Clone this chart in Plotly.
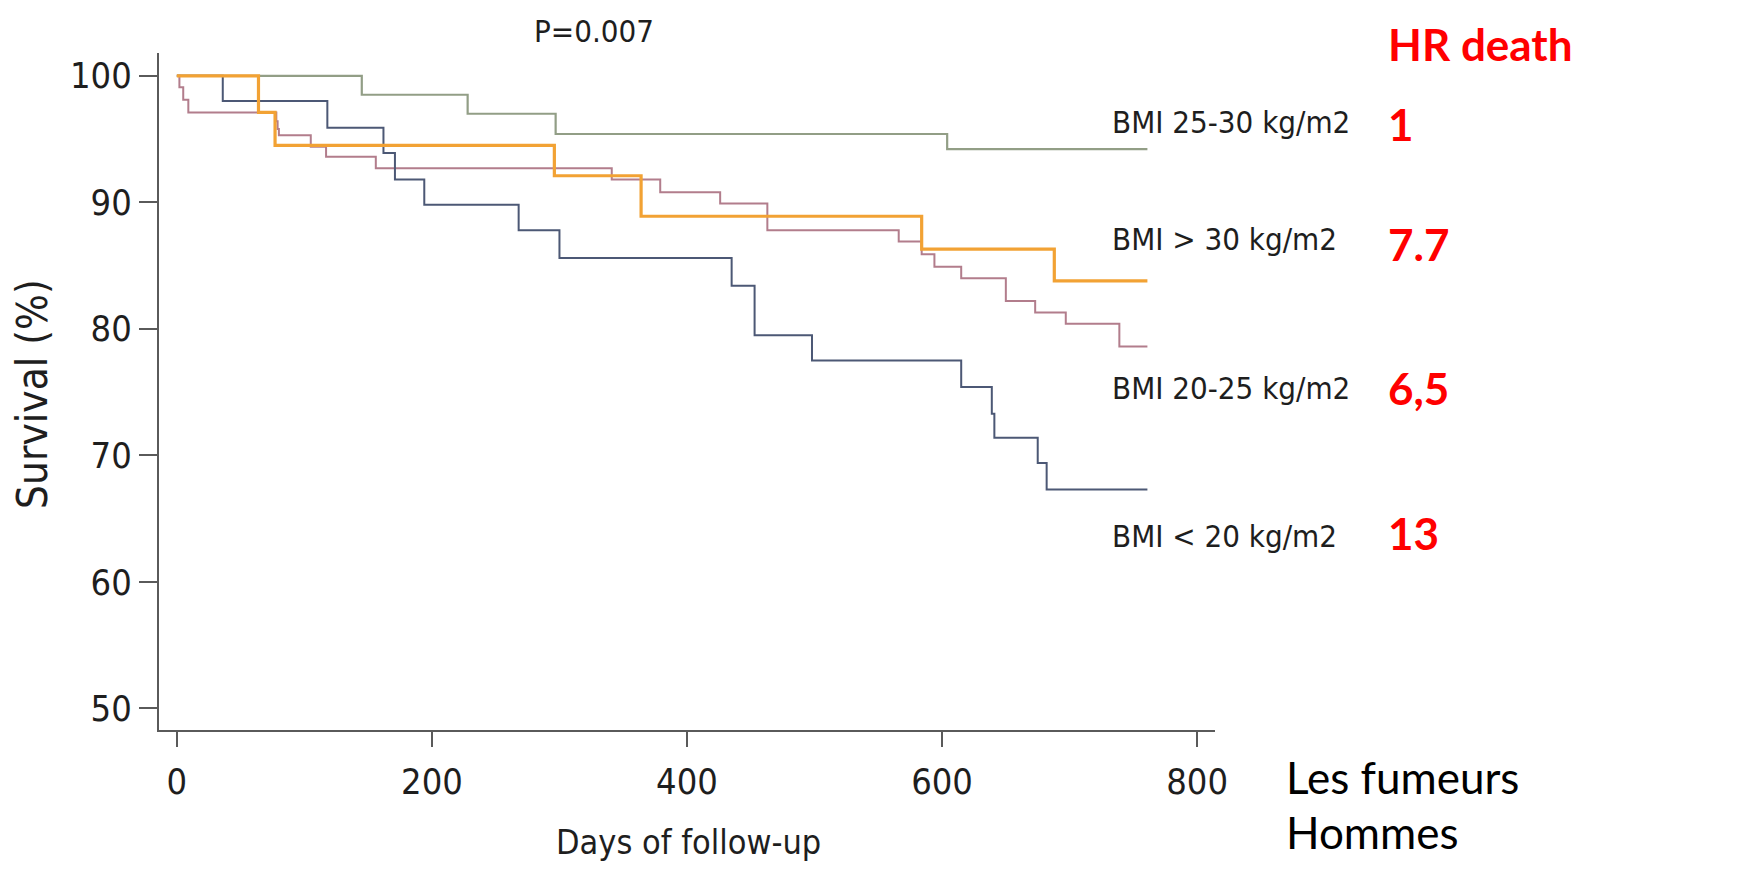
import plotly.graph_objects as go

# ---------------- data ----------------
days_25_30 = [0, 145, 228, 297, 604, 761]
surv_25_30 = [100, 98.5, 97.0, 95.4, 94.2, 94.2]

days_gt30 = [0, 64, 77, 296, 364, 584, 688, 761]
surv_gt30 = [100, 97.1, 94.5, 92.1, 88.9, 86.3, 83.8, 83.8]

days_20_25 = [0, 2, 5, 9, 78, 79, 80, 105, 117, 156, 341, 379, 426, 463,
              566, 584, 594, 615, 650, 673, 697, 739, 761]
surv_20_25 = [100, 99.1, 98.1, 97.1, 96.4, 95.8, 95.3, 94.4, 93.6, 92.7, 91.8, 90.8, 89.9, 87.8,
              86.9, 85.9, 84.9, 84.0, 82.2, 81.3, 80.4, 78.6, 78.6]

days_lt20 = [0, 36, 118, 162, 171, 194, 268, 300, 435, 453, 498, 615, 639, 641, 675, 682, 761]
surv_lt20 = [100, 98.0, 95.9, 93.9, 91.8, 89.8, 87.8, 85.6, 83.4, 79.5, 77.5, 75.4, 73.3, 71.4,
             69.4, 67.3, 67.3]

x_ticks = [0, 200, 400, 600, 800]
y_ticks = [50, 60, 70, 80, 90, 100]

group_labels = ["BMI 25-30 kg/m2", "BMI > 30 kg/m2", "BMI 20-25 kg/m2", "BMI < 20 kg/m2"]
hr_values = ["1", "7.7", "6,5", "13"]
p_text = "P=0.007"
hr_title = "HR death"
subtitle_lines = ["Les fumeurs", "Hommes"]

# ---------------- layout helpers ----------------
OFF = 8                      # page body margin of the html page
W, H = 1740 - 2 * OFF, 871 - 2 * OFF
# plot area in screen pixels
L, R, T, B = 159, 1215, 53, 730


def px(x, y):
    return (x - L) / (R - L), (B - y) / (B - T)


ARIAL = "Liberation Sans Narrow, DejaVu Sans Condensed, Arial Narrow, Liberation Sans, Arial, sans-serif"
CALIBRI = "Lato, Carlito, Calibri, Open Sans, sans-serif"

fig = go.Figure()

series = [
    (days_25_30, surv_25_30, "#929e86", 2.2, group_labels[0]),
    (days_20_25, surv_20_25, "#b27d8c", 2.0, group_labels[2]),
    (days_lt20, surv_lt20, "#4c5875", 2.0, group_labels[3]),
    (days_gt30, surv_gt30, "#f2a234", 3.2, group_labels[1]),
]
for xs, ys, col, w, name in series:
    fig.add_trace(go.Scatter(x=xs, y=ys, mode="lines", line=dict(color=col, width=w, shape="hv"),
                             name=name, showlegend=False, hoverinfo="skip"))

axis_col = "#5a5a5a"
fig.update_xaxes(range=[-14, 814], tickvals=x_ticks, ticks="outside", ticklen=15, tickwidth=1.5,
                 tickcolor=axis_col, showline=True, linecolor=axis_col, linewidth=2, showgrid=False,
                 zeroline=False, ticklabelstandoff=4,
                 tickfont=dict(family=ARIAL, size=36, color="#1e1e1e"))
fig.update_yaxes(range=[48.3, 101.8], tickvals=y_ticks, ticks="outside", ticklen=18, tickwidth=1.5,
                 tickcolor=axis_col, showline=True, linecolor=axis_col, linewidth=2, showgrid=False,
                 zeroline=False, ticklabelstandoff=0,
                 tickfont=dict(family=ARIAL, size=36, color="#1e1e1e"))

ann = []


def add_text(text, x, y, font, xanchor="left", yanchor="middle", textangle=0):
    xp, yp = px(x, y)
    ann.append(dict(text=text, x=xp, y=yp, xref="paper", yref="paper", showarrow=False,
                    xanchor=xanchor, yanchor=yanchor, font=font, textangle=textangle))


# P value
add_text(p_text, 594, 31, dict(family=ARIAL, size=31, color="#1e1e1e"), xanchor="center")
# axis titles
add_text("Survival (%)", 33, 394, dict(family=ARIAL, size=42, color="#1e1e1e"), xanchor="center",
         textangle=-90)
add_text("Days of follow-up", 688, 842, dict(family=ARIAL, size=34, color="#1e1e1e"), xanchor="center")

# group labels
label_y = [122, 239, 388, 536]
hr_y = [124, 244, 388, 533]
for lab, ly in zip(group_labels, label_y):
    add_text(lab, 1110, ly, dict(family=ARIAL, size=31, color="#1e1e1e"))
add_text(hr_title, 1386, 44, dict(family=CALIBRI, size=44, color="#ff0000", weight="bold"))
for v, hy in zip(hr_values, hr_y):
    add_text(v, 1386, hy, dict(family=CALIBRI, size=44, color="#ff0000", weight="bold"))

add_text(subtitle_lines[0], 1284, 777, dict(family=CALIBRI, size=44, color="#000000"))
add_text(subtitle_lines[1], 1284, 832, dict(family=CALIBRI, size=44, color="#000000"))

fig.update_layout(width=W, height=H,
                  margin=dict(l=L - OFF, r=(W + OFF) - R, t=T - OFF, b=(H + OFF) - B, autoexpand=False),
                  plot_bgcolor="white", paper_bgcolor="white", annotations=ann, showlegend=False)

fig.write_html("out.html")
